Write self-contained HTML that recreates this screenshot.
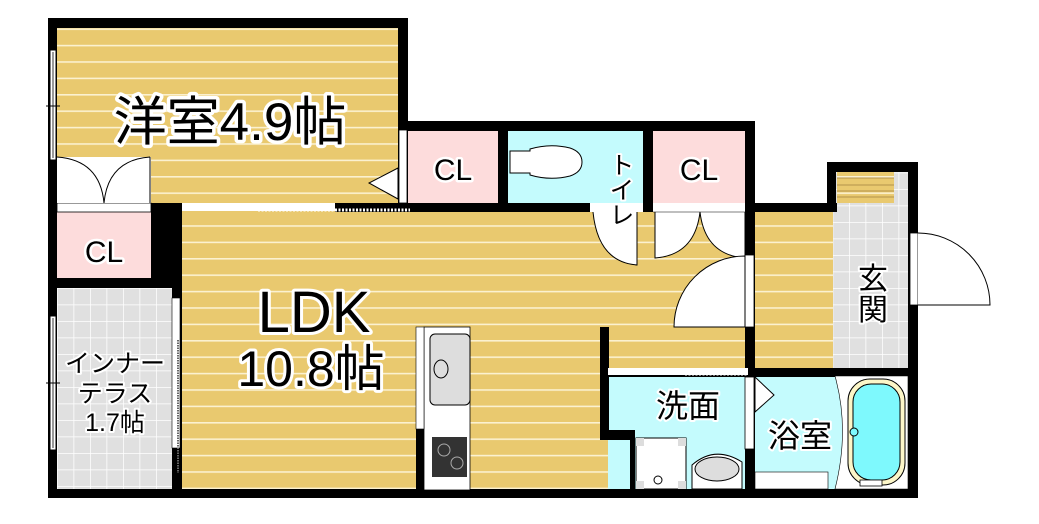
<!DOCTYPE html>
<html><head><meta charset="utf-8">
<style>
html,body{margin:0;padding:0;background:#fff;}
svg{display:block;}
text{font-family:"Liberation Sans","Noto Sans CJK JP",sans-serif;fill:#000;stroke:#fff;paint-order:stroke;stroke-linejoin:round;}
</style></head><body>
<svg width="1039" height="524" viewBox="0 0 1039 524" xmlns="http://www.w3.org/2000/svg">
<defs>
<pattern id="wood" width="20" height="16.4" patternUnits="userSpaceOnUse" y="12">
<rect width="20" height="16.4" fill="#e9c96f"/><rect y="0" width="20" height="1.6" fill="#fbf1d0"/>
</pattern>
<pattern id="tile" width="16.5" height="16.5" patternUnits="userSpaceOnUse" x="57" y="288">
<rect width="16.5" height="16.5" fill="#e0e0e0"/><path d="M0 0H16.5M0 0V16.5" stroke="#fff" stroke-width="1.5"/>
</pattern>
</defs>

<rect x="57" y="28" width="342" height="176" fill="url(#wood)"/>
<rect x="182" y="211" width="565" height="279" fill="url(#wood)"/>
<rect x="750" y="211" width="85" height="160" fill="url(#wood)"/>
<rect x="57" y="288" width="118" height="202" fill="url(#tile)"/>
<rect x="833" y="171" width="76" height="198" fill="url(#tile)"/>
<rect x="837" y="172" width="57" height="31" fill="url(#wood)"/>
<path d="M837 178H894M837 185H894M837 191H894M837 197H894" stroke="#a08040" stroke-width="0.8"/>
<rect x="57" y="212" width="94" height="66" fill="#fddcdc"/>
<rect x="407" y="130" width="91" height="73" fill="#fddcdc"/>
<rect x="653" y="130" width="92" height="73" fill="#fddcdc"/>
<rect x="508" y="130" width="135" height="73" fill="#c4fbfd"/>
<rect x="608" y="376" width="138" height="113" fill="#c4fbfd"/>
<rect x="755" y="376" width="153" height="113" fill="#c4fbfd"/>

<g fill="#000">
<rect x="48" y="18" width="359" height="10"/>
<rect x="398" y="18" width="10" height="194"/>
<rect x="398" y="121" width="357" height="10"/>
<rect x="498" y="121" width="10" height="91"/>
<rect x="643" y="121" width="10" height="91"/>
<rect x="745" y="121" width="10" height="91"/>
<rect x="745" y="203" width="92" height="9"/>
<rect x="827" y="162" width="91" height="10"/>
<rect x="827" y="162" width="9" height="50"/>
<rect x="908" y="162" width="10" height="336"/>
<rect x="48" y="18" width="9" height="480"/>
<rect x="48" y="489" width="870" height="9"/>
<rect x="151" y="203" width="31" height="85"/>
<rect x="48" y="278" width="134" height="10"/>
<rect x="172" y="288" width="10" height="202"/>
<rect x="335" y="203" width="170" height="9"/>
<rect x="498" y="203" width="257" height="9"/>
<rect x="745" y="203" width="10" height="170"/>
<rect x="600" y="368" width="318" height="9"/>
<rect x="600" y="327" width="9" height="113"/>
<rect x="600" y="430" width="30" height="10"/>
<rect x="630" y="430" width="5" height="60"/>
<rect x="745" y="368" width="10" height="121"/>
<rect x="416" y="327" width="8" height="163"/>
</g>

<rect x="50" y="50" width="6" height="110" fill="#fff" stroke="#000" stroke-width="1"/>
<line x1="53" y1="52" x2="53" y2="158" stroke="#000" stroke-width="0.8"/>
<line x1="46" y1="106" x2="60" y2="106" stroke="#000"/>
<rect x="50" y="316" width="6" height="134" fill="#fff" stroke="#000" stroke-width="1"/>
<line x1="53" y1="318" x2="53" y2="448" stroke="#000" stroke-width="0.8"/>
<line x1="46" y1="383" x2="60" y2="383" stroke="#000"/>

<rect x="57" y="203" width="94" height="9" fill="#fff" stroke="#000" stroke-width="0.8"/>
<rect x="57" y="157" width="94" height="46" fill="#fff"/>
<path d="M57 157 Q100 160 104 203 M150 157 Q108 160 104 203 M150 157V203" fill="none" stroke="#000" stroke-width="1"/>
<rect x="182" y="203" width="153" height="7" fill="#fff"/>
<line x1="258" y1="210" x2="410" y2="210" stroke="#fff" stroke-width="3" stroke-dasharray="2 1.5"/>
<rect x="399" y="130" width="8" height="73" fill="#fff" stroke="#000" stroke-width="0.8"/>
<path d="M398 168 L369 183 L398 199 Z" fill="#fff" stroke="#000" stroke-width="1"/>
<path d="M510 151 h20 v-2 q20 -6 40 -1 q12 4 12 14 q0 10 -12 14 q-20 5 -40 -1 v-2 h-20 z" fill="#fff" stroke="#000" stroke-width="1"/>
<rect x="590" y="203" width="53" height="9" fill="#fff"/>
<path d="M593 212 Q598 262 637 265 V212" fill="#fff" stroke="#000" stroke-width="1"/>
<rect x="653" y="203" width="92" height="9" fill="#fff"/>
<path d="M655 212 V258 Q695 255 700 212 Q705 255 745 258 V212" fill="#fff" stroke="#000" stroke-width="1"/>
<line x1="653" y1="212" x2="745" y2="212" stroke="#000" stroke-width="0.6"/>
<rect x="745" y="255" width="9" height="72" fill="#fff" stroke="#000" stroke-width="0.8"/>
<path d="M745 327 H674 A71 71 0 0 1 745 256 Z" fill="#fff" stroke="#000" stroke-width="1"/>
<rect x="608" y="368" width="140" height="7" fill="#fff"/>
<line x1="685" y1="374" x2="748" y2="374" stroke="#fff" stroke-width="3" stroke-dasharray="2 1.5"/>
<rect x="745" y="377" width="9" height="72" fill="#fff" stroke="#000" stroke-width="0.8"/>
<path d="M755 377 L774 395 L755 412 Z" fill="#fff" stroke="#000" stroke-width="1"/>
<rect x="172" y="298" width="8" height="150" fill="#fff" stroke="#000" stroke-width="0.6"/>
<line x1="178" y1="340" x2="178" y2="473" stroke="#666" stroke-width="2" stroke-dasharray="1.5 1"/>
<rect x="910" y="233" width="8" height="72" fill="#fff" stroke="#000" stroke-width="0.8"/>
<path d="M918 233 A72 72 0 0 1 990 305 H918" fill="#fff" stroke="#000" stroke-width="1"/>
<rect x="424" y="327" width="46" height="163" fill="#fff" stroke="#000" stroke-width="0.8"/>
<rect x="416" y="327" width="8" height="102" fill="#fff" stroke="#000" stroke-width="0.6"/>
<rect x="430" y="334" width="40" height="71" rx="5" fill="#ddd" stroke="#000"/>
<ellipse cx="441" cy="369" rx="7" ry="9" fill="#ddd" stroke="#000"/>
<rect x="432" y="437" width="35" height="40" fill="#333"/>
<circle cx="444" cy="450" r="6" fill="none" stroke="#aaa"/><circle cx="457" cy="463" r="6" fill="none" stroke="#aaa"/>
<rect x="636" y="438" width="50" height="51" fill="#fff" stroke="#000"/>
<rect x="636" y="438" width="8" height="8" fill="#ddd"/><rect x="678" y="438" width="8" height="8" fill="#ddd"/>
<rect x="636" y="481" width="8" height="8" fill="#ddd"/><rect x="678" y="481" width="8" height="8" fill="#ddd"/>
<circle cx="658" cy="480" r="4" fill="none" stroke="#000"/>
<path d="M692 489 V465 Q715 445 742 462 V489 Z" fill="#fff" stroke="#000"/>
<ellipse cx="717" cy="469" rx="22" ry="12" fill="#ddd" stroke="#000"/>
<rect x="755" y="472" width="73" height="17" fill="#fff" stroke="#000" stroke-width="0.6"/>
<path d="M835 376 Q850 430 835 489 H908 V376 Z" fill="#fff" stroke="#000" stroke-width="0.6"/>
<rect x="848" y="379" width="57" height="106" rx="22" fill="#fcf6c8" stroke="#000"/>
<rect x="853" y="384" width="47" height="96" rx="18" fill="#7ef9fd" stroke="#000"/>
<circle cx="854" cy="432" r="4" fill="#7ef9fd" stroke="#000"/>
<rect x="860" y="480" width="22" height="6" fill="#fff" stroke="#000" stroke-width="0.8"/>

<text x="230" y="140" font-size="53" stroke-width="7" text-anchor="middle">洋室4.9帖</text>
<text x="453" y="180" font-size="30" stroke-width="5" text-anchor="middle">CL</text>
<text x="699" y="180" font-size="30" stroke-width="5" text-anchor="middle">CL</text>
<text x="104" y="262" font-size="30" stroke-width="5" text-anchor="middle">CL</text>
<text x="620" y="152" font-size="25" stroke-width="4" writing-mode="tb">トイレ</text>
<text x="314" y="332" font-size="58" stroke-width="6" text-anchor="middle">LDK</text>
<text x="311" y="386" font-size="50" stroke-width="6" text-anchor="middle">10.8帖</text>
<text x="115" y="372" font-size="25" stroke-width="4" text-anchor="middle">インナー</text>
<text x="115" y="402" font-size="25" stroke-width="4" text-anchor="middle">テラス</text>
<text x="115" y="431" font-size="25" stroke-width="4" text-anchor="middle">1.7帖</text>
<text x="873" y="289" font-size="30" stroke-width="4" text-anchor="middle">玄</text>
<text x="873" y="320" font-size="30" stroke-width="4" text-anchor="middle">関</text>
<text x="688" y="417" font-size="32" stroke-width="4" text-anchor="middle">洗面</text>
<text x="800" y="447" font-size="32" stroke-width="4" text-anchor="middle">浴室</text>
</svg>
</body></html>
